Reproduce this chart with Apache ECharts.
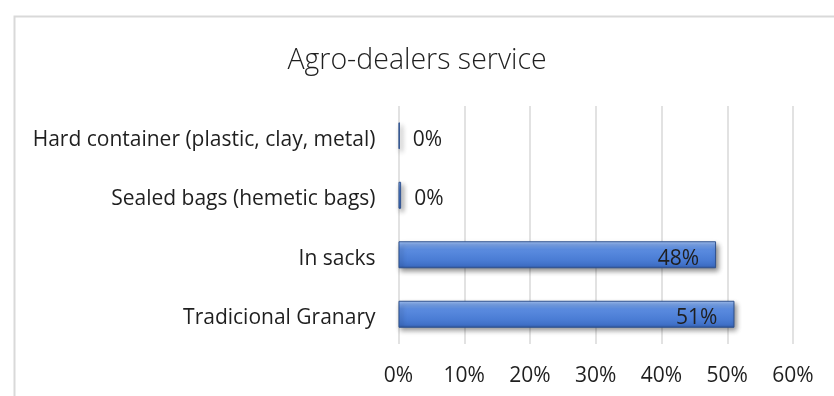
<!DOCTYPE html>
<html>
<head>
<meta charset="utf-8">
<script src="https://cdn.jsdelivr.net/npm/echarts@6/dist/echarts.min.js"></script>
<style>
  html, body { margin: 0; padding: 0; background: #ffffff; }
  #chart { width: 834px; height: 396px; }
</style>
</head>
<body>
<div id="chart"></div>
<script>
// Storage methods, listed bottom-to-top as the category axis draws them
const categories = [
  'Tradicional Granary',
  'In sacks',
  'Sealed bags (hemetic bags)',
  'Hard container (plastic, clay, metal)'
];
// Share of respondents, in percent
const shares = [51.1, 48.3, 0.4, 0.2];
// Percent axis ticks
const axisMin = 0;
const axisMax = 60;
const axisStep = 10;

const FONT = '"Open Sans", sans-serif';

const barFill = new echarts.graphic.LinearGradient(0, 0, 0, 1, [
  { offset: 0, color: '#a9c6f5' },
  { offset: 0.12, color: '#7ea7ec' },
  { offset: 0.3, color: '#5b8ce0' },
  { offset: 0.7, color: '#4a7cd4' },
  { offset: 0.9, color: '#3f6fc6' },
  { offset: 1, color: '#30589f' }
]);

const seriesData = shares.map(function (v) {
  const big = v >= 5;
  return {
    value: v,
    label: big
      ? { position: 'insideRight', distance: 17 }
      : { position: 'right', distance: 13 }
  };
});

const chart = echarts.init(document.getElementById('chart'), null, { renderer: 'canvas' });

chart.setOption({
  backgroundColor: '#ffffff',
  animation: false,
  title: {
    text: 'Agro-dealers service',
    left: 'center',
    top: 41,
    textStyle: {
      fontFamily: FONT,
      fontSize: 28.5,
      fontWeight: 300,
      color: '#1f1f1f'
    }
  },
  graphic: [
    {
      type: 'rect',
      left: 12,
      top: 14,
      shape: { width: 900, height: 500 },
      style: { fill: 'none', stroke: '#d9d9d9', lineWidth: 2 },
      z: -1
    }
  ],
  grid: {
    left: 398.5,
    right: 41,
    top: 106,
    bottom: 52,
    containLabel: false
  },
  xAxis: {
    type: 'value',
    min: axisMin,
    max: axisMax,
    interval: axisStep,
    axisLine: { show: false },
    axisTick: { show: false },
    splitLine: { show: true, lineStyle: { color: '#d9d9d9', width: 1.5 } },
    axisLabel: {
      margin: 22,
      fontFamily: FONT,
      fontSize: 21,
      color: '#1f1f1f',
      formatter: function (v) { return v + '%'; }
    }
  },
  yAxis: {
    type: 'category',
    data: categories,
    axisLine: { show: false },
    axisTick: { show: false },
    axisLabel: {
      margin: 23,
      verticalAlign: 'top',
      lineHeight: 8,
      fontFamily: FONT,
      fontSize: 21,
      color: '#1f1f1f'
    }
  },
  series: [
    {
      type: 'bar',
      data: seriesData,
      barWidth: 27,
      itemStyle: {
        color: barFill,
        borderColor: '#2f528f',
        borderWidth: 1,
        shadowColor: 'rgba(0,0,0,0.45)',
        shadowBlur: 5,
        shadowOffsetX: 2,
        shadowOffsetY: 3
      },
      label: {
        show: true,
        verticalAlign: 'top',
        lineHeight: 8,
        fontFamily: FONT,
        fontSize: 21,
        color: '#1f1f1f',
        formatter: function (p) { return Math.round(p.value) + '%'; }
      }
    }
  ]
});
</script>
</body>
</html>
